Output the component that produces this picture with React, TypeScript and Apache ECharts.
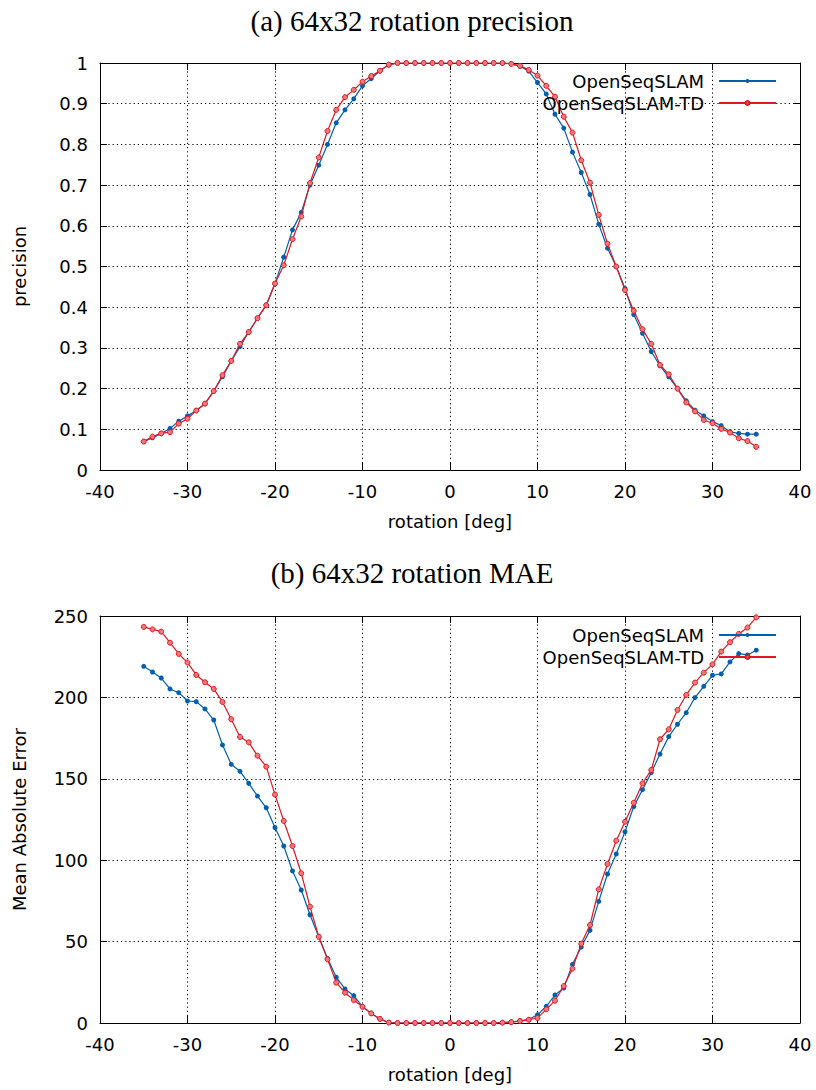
import React, { useEffect, useRef } from "react";
import * as echarts from "echarts";

const rotation = [
  -35, -34, -33, -32, -31, -30, -29, -28, -27, -26, -25, -24, -23, -22, -21, -20, -19, -18,
  -17, -16, -15, -14, -13, -12, -11, -10, -9, -8, -7, -6, -5, -4, -3, -2, -1, 0, 1, 2, 3, 4,
  5, 6, 7, 8, 9, 10, 11, 12, 13, 14, 15, 16, 17, 18, 19, 20, 21, 22, 23, 24, 25, 26, 27, 28,
  29, 30, 31, 32, 33, 34, 35,
];

const precisionOSS = [
  0.07, 0.079, 0.09, 0.102, 0.12, 0.133, 0.146, 0.163, 0.194, 0.229, 0.268, 0.303, 0.339,
  0.373, 0.405, 0.458, 0.523, 0.59, 0.633, 0.7, 0.749, 0.8, 0.853, 0.885, 0.912, 0.944, 0.962,
  0.981, 0.995, 1, 1, 1, 1, 1, 1, 1, 1, 1, 1, 1, 1, 1, 0.998, 0.992, 0.98, 0.952, 0.924, 0.874,
  0.84, 0.781, 0.731, 0.677, 0.604, 0.545, 0.5, 0.446, 0.382, 0.336, 0.291, 0.256, 0.229, 0.2,
  0.17, 0.147, 0.133, 0.119, 0.109, 0.094, 0.09, 0.088, 0.088,
];

const precisionTD = [
  0.07, 0.082, 0.09, 0.093, 0.114, 0.126, 0.146, 0.163, 0.194, 0.233, 0.268, 0.31, 0.339,
  0.373, 0.405, 0.458, 0.503, 0.567, 0.623, 0.705, 0.768, 0.833, 0.885, 0.916, 0.934, 0.954,
  0.968, 0.981, 0.996, 1, 1, 1, 1, 1, 1, 1, 1, 1, 1, 1, 1, 1, 0.998, 0.993, 0.983, 0.969, 0.944,
  0.917, 0.868, 0.829, 0.761, 0.706, 0.627, 0.556, 0.5, 0.442, 0.391, 0.346, 0.31, 0.258, 0.235,
  0.2, 0.166, 0.144, 0.123, 0.115, 0.101, 0.092, 0.078, 0.071, 0.057,
];

const maeOSS = [
  219.1, 215.6, 211.9, 205.2, 202.9, 197.8, 197.4, 192.9, 186.1, 170.8, 158.9, 154.6, 147.2,
  139.4, 132.2, 120.1, 108.7, 93.4, 81.7, 66.5, 53.0, 39.7, 28.1, 20.9, 16.8, 10.0, 5.9, 2.5,
  0.2, 0, 0, 0, 0, 0, 0, 0, 0, 0, 0, 0, 0, 0.2, 0.6, 1.4, 2.2, 5.1, 10.2, 17.2, 21.5, 36.0, 46.7,
  56.9, 74.7, 91.5, 103.8, 117.5, 132.9, 143.3, 153.8, 165.2, 175.9, 183.5, 190.6, 199.9, 206.8,
  213.6, 214.4, 221.8, 226.9, 226.1, 229.0,
];

const maeTD = [
  243.3, 241.8, 240.4, 233.6, 226.7, 221.4, 213.8, 209.3, 205.2, 197.2, 186.6, 175.7, 172.4,
  164.2, 157.5, 140.3, 124.1, 108.7, 92.0, 71.5, 53.0, 39.1, 24.8, 18.6, 14.1, 10.0, 5.9, 2.5,
  0.3, 0, 0, 0, 0, 0, 0, 0, 0, 0, 0, 0, 0, 0.2, 0.5, 1.2, 2.0, 3.1, 8.4, 13.7, 22.7, 33.4, 48.7,
  60.2, 82.1, 97.7, 112.0, 123.6, 135.3, 147.2, 155.4, 174.3, 180.4, 192.3, 201.5, 209.1, 215.2,
  220.3, 228.1, 233.9, 239.0, 242.9, 249.2,
];

const seriesNames = ["OpenSeqSLAM", "OpenSeqSLAM-TD"];
const titles = ["(a) 64x32 rotation precision", "(b) 64x32 rotation MAE"];
const yNames = ["precision", "Mean Absolute Error"];
const xName = "rotation [deg]";

const BLUE = "#0060ad";
const RED = "#dd181f";
const SANS = "'DejaVu Sans', sans-serif";
const FS = 18;

function pairs(ys: number[]) {
  return rotation.map((x, i) => [x, ys[i]]);
}

function xAxesFor(gridIndex: number) {
  const common = {
    type: "value",
    gridIndex,
    min: -40,
    max: 40,
    interval: 10,
    axisLine: { show: true, onZero: false, lineStyle: { color: "#000", width: 1 } },
    axisTick: { show: true, inside: true, length: 7, lineStyle: { color: "#000" } },
  };
  return [
    {
      ...common,
      position: "bottom",
      name: xName,
      nameLocation: "middle",
      nameGap: 42,
      nameTextStyle: { fontFamily: SANS, fontSize: FS, color: "#000" },
      axisLabel: { fontFamily: SANS, fontSize: FS, color: "#000", margin: 12 },
      splitLine: { show: true, lineStyle: { color: "#000", type: [1.2, 3], width: 1 } },
    },
    {
      ...common,
      position: "top",
      axisLabel: { show: false },
      splitLine: { show: false },
    },
  ];
}

function yAxesFor(gridIndex: number, max: number, interval: number, name: string) {
  const common = {
    type: "value",
    gridIndex,
    min: 0,
    max,
    interval,
    axisLine: { show: true, onZero: false, lineStyle: { color: "#000", width: 1 } },
    axisTick: { show: true, inside: true, length: 7, lineStyle: { color: "#000" } },
  };
  return [
    {
      ...common,
      position: "left",
      name,
      nameLocation: "middle",
      nameGap: 72,
      nameTextStyle: { fontFamily: SANS, fontSize: FS, color: "#000" },
      axisLabel: {
        fontFamily: SANS,
        fontSize: FS,
        color: "#000",
        margin: 12,
        formatter: (v: number) => String(Math.round(v * 10) / 10),
      },
      splitLine: { show: true, lineStyle: { color: "#000", type: [1.2, 3], width: 1 } },
    },
    {
      ...common,
      position: "right",
      axisLabel: { show: false },
      splitLine: { show: false },
    },
  ];
}

function makeSeries(axisIndex: number, blue: number[], red: number[]) {
  return [
    {
      name: seriesNames[0],
      type: "line",
      xAxisIndex: axisIndex,
      yAxisIndex: axisIndex,
      data: pairs(blue),
      symbol: "circle",
      symbolSize: 5,
      lineStyle: { color: BLUE, width: 1.2 },
      itemStyle: { color: BLUE },
      z: 2,
    },
    {
      name: seriesNames[1],
      type: "line",
      xAxisIndex: axisIndex,
      yAxisIndex: axisIndex,
      data: pairs(red),
      symbol: "circle",
      symbolSize: 5,
      lineStyle: { color: RED, width: 1.2 },
      itemStyle: { color: "rgba(240,120,125,1)", borderColor: RED, borderWidth: 1 },
      z: 3,
    },
  ];
}

function legendAt(top: number) {
  return {
    data: seriesNames,
    orient: "vertical",
    align: "right",
    right: 39,
    top,
    padding: 0,
    itemWidth: 57,
    itemHeight: 5,
    itemGap: 4,
    selectedMode: false,
    textStyle: { fontFamily: SANS, fontSize: FS, color: "#000", padding: [0, 10, 0, 0] },
  };
}

export default function App() {
  const ref = useRef<HTMLDivElement>(null);
  useEffect(() => {
    if (!ref.current) return;
    const chart = echarts.init(ref.current, null, { renderer: "svg" });
    chart.setOption({
      animation: false,
      backgroundColor: "#fff",
      grid: [
        { left: 100, top: 63, width: 700, height: 407 },
        { left: 100, top: 616, width: 700, height: 407 },
      ],
      xAxis: [...xAxesFor(0), ...xAxesFor(1)],
      yAxis: [
        ...yAxesFor(0, 1, 0.1, yNames[0]),
        ...yAxesFor(1, 250, 50, yNames[1]),
      ],
      legend: [legendAt(72), legendAt(626)],
      series: [
        ...makeSeries(0, precisionOSS, precisionTD),
        ...makeSeries(2, maeOSS, maeTD),
      ],
      graphic: [
        {
          type: "text",
          x: 412,
          y: 21,
          style: {
            text: titles[0],
            fontFamily: "'Liberation Serif', serif",
            fontSize: 29,
            fill: "#000",
            align: "center",
            verticalAlign: "middle",
          },
        },
        {
          type: "text",
          x: 412,
          y: 573,
          style: {
            text: titles[1],
            fontFamily: "'Liberation Serif', serif",
            fontSize: 29,
            fill: "#000",
            align: "center",
            verticalAlign: "middle",
          },
        },
      ],
    });
    return () => chart.dispose();
  }, []);
  return (
    <div
      ref={ref}
      style={{ position: "fixed", left: 0, top: 0, width: 816, height: 1090, background: "#fff" }}
    />
  );
}
